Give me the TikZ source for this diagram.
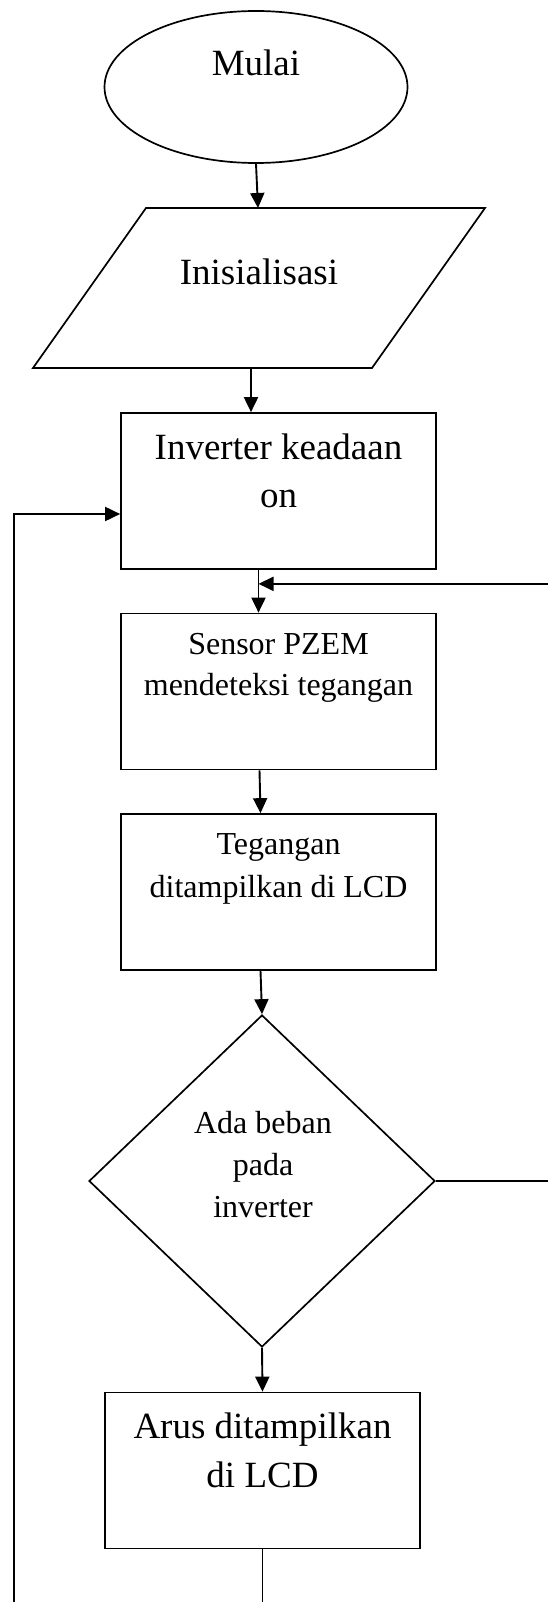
\documentclass[tikz,border=0pt]{standalone}
\usepackage{fontspec}
\setmainfont{Liberation Serif}
\usetikzlibrary{shapes.geometric,arrows.meta,calc}

\begin{document}
\begin{tikzpicture}[x=1pt,y=-1pt,
  outline/.style={draw,line width=1.7pt,inner sep=0pt},
  procbox/.style={outline,rectangle,minimum width=315,minimum height=156},
  bigtext/.style={anchor=base,inner sep=0pt,font=\fontsize{37}{44}\selectfont},
  smalltext/.style={anchor=base,inner sep=0pt,font=\fontsize{32}{38}\selectfont},
  plain/.style={line width=1.9pt},
  flow/.style={plain,-{Triangle[length=15pt,width=14pt]}}]
\path[use as bounding box] (0,0) rectangle (548,1602);
\node[outline,ellipse,minimum width=303,minimum height=152] (mulai) at (256,87) {};
\node[bigtext] (mulai-t) at (256,76) {Mulai};
\draw[line width=1.7pt] (33,368) -- (146,208) -- (485,208) -- (372,368) -- cycle;
\coordinate (init-n) at (258,208);
\coordinate (init-s) at (251,368);
\node[bigtext] (init-t) at (259,285) {Inisialisasi};
\node[procbox] (inv) at (278.5,491) {};
\node[bigtext] (inv-t1) at (278.5,459) {Inverter keadaan};
\node[bigtext] (inv-t2) at (278.5,507) {on};
\node[procbox] (pzem) at (278.5,691.5) {};
\node[smalltext] (pzem-t1) at (278.5,654) {Sensor PZEM};
\node[smalltext] (pzem-t2) at (278.5,695) {mendeteksi tegangan};
\node[procbox] (volt) at (278.5,892) {};
\node[smalltext] (volt-t1) at (278.5,854) {Tegangan};
\node[smalltext] (volt-t2) at (278.5,897) {ditampilkan di LCD};
\node[outline,diamond,minimum width=346,minimum height=332] (beban) at (262,1181) {};
\node[smalltext] (beban-t1) at (263,1133) {Ada beban};
\node[smalltext] (beban-t2) at (263,1175) {pada};
\node[smalltext] (beban-t3) at (263,1217) {inverter};
\node[procbox] (arus) at (262.5,1470.5) {};
\node[bigtext] (arus-t1) at (262.5,1438) {Arus ditampilkan};
\node[bigtext] (arus-t2) at (262.5,1487) {di LCD};
\coordinate (edge-r) at (548,0);
\coordinate (edge-b) at (0,1602);
\coordinate (loop-l) at (14,1602);
\coordinate (join) at ($(inv.south)+(-20,14)$);
\draw[flow] (mulai.south) -- (init-n);
\draw[flow] (init-s) -- (init-s |- inv.north);
\draw[flow] ($(inv.south)+(-20,0)$) -- ($(pzem.north)+(-20,0)$);
\draw[flow] ($(pzem.south)+(-19,0)$) -- ($(volt.north)+(-18,0)$);
\draw[flow] ($(volt.south)+(-18,0)$) -- (beban.north);
\draw[flow] (beban.south) -- (arus.north);
\draw[plain] (beban.east) -- (beban.east -| edge-r);
\draw[flow] (join -| edge-r) -- (join);
\draw[plain] (arus.south) -- (arus.south |- edge-b);
\draw[flow] (loop-l) |- ($(inv.west)+(0,23)$);
\end{tikzpicture}
\end{document}
